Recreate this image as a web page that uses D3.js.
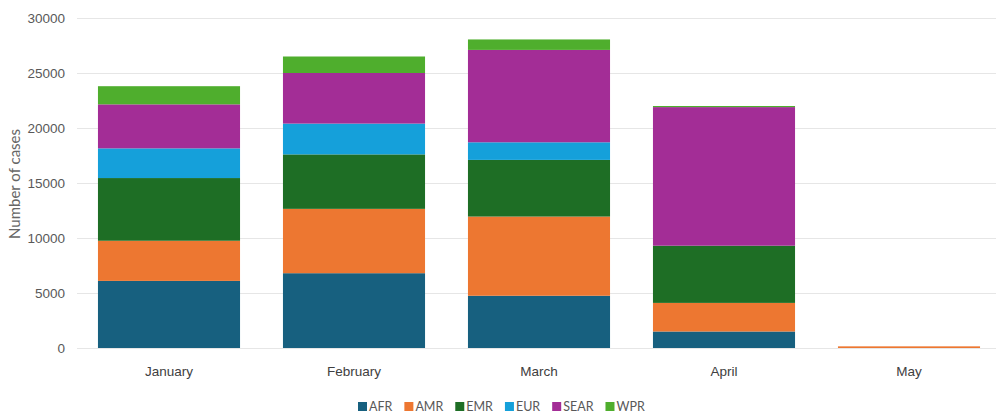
<!DOCTYPE html>
<html>
<head>
<meta charset="utf-8">
<script src="https://cdn.jsdelivr.net/npm/d3@7"></script>
<style>
  html, body { margin: 0; padding: 0; background: #ffffff; }
  svg { display: block; font-family: "Lato", "Open Sans", sans-serif; }
</style>
</head>
<body>
<svg id="chart" width="997" height="416"></svg>
<script>
// Monthly case counts by WHO region
const months = ["January", "February", "March", "April", "May"];
const regions = ["AFR", "AMR", "EMR", "EUR", "SEAR", "WPR"];
const afr  = [6100, 6800, 4750, 1500, 0];
const amr  = [3650, 5850, 7200, 2600, 150];
const emr  = [5700, 4950, 5150, 5200, 0];
const eur  = [2700, 2800, 1600, 0, 0];
const sear = [4000, 4600, 8400, 12600, 0];
const wpr  = [1650, 1500, 950, 100, 0];
const yTicks = [0, 5000, 10000, 15000, 20000, 25000, 30000];
const colors = ["#17607f", "#ed7731", "#1e6e25", "#15a0da", "#a32d96", "#4fae2d"];

const seriesValues = [afr, amr, emr, eur, sear, wpr];
const rows = months.map((m, i) => {
  const r = { month: m };
  regions.forEach((k, j) => { r[k] = seriesValues[j][i]; });
  return r;
});

const svg = d3.select("#chart");
const x = d3.scaleBand().domain(months).range([76.5, 1001.5])
  .paddingInner(0.232).paddingOuter(0.116);
const y = d3.scaleLinear().domain([0, 30000]).range([348, 18]);
const color = d3.scaleOrdinal().domain(regions).range(colors);

// horizontal gridlines
svg.append("g").selectAll("line").data(yTicks).join("line")
  .attr("x1", 77).attr("x2", 996)
  .attr("y1", d => Math.round(y(d)) + 0.5).attr("y2", d => Math.round(y(d)) + 0.5)
  .attr("stroke", "#e6e6e6").attr("stroke-width", 1);

// y axis labels
const yAxis = d3.axisLeft(y).tickValues(yTicks).tickSize(0).tickPadding(0)
  .tickFormat(d3.format("d"));
svg.append("g").attr("transform", "translate(65,0)").call(yAxis)
  .call(g => g.select(".domain").remove())
  .selectAll("text").attr("fill", "#595959").attr("font-size", 13.5);

// stacked bars
const stacked = d3.stack().keys(regions)(rows);
svg.append("g").selectAll("g").data(stacked).join("g")
  .attr("fill", d => color(d.key))
  .selectAll("rect").data(d => d).join("rect")
  .attr("x", d => x(d.data.month))
  .attr("width", x.bandwidth())
  .attr("y", d => y(d[1]))
  .attr("height", d => Math.max(0, y(d[0]) - y(d[1])));

// x axis labels
const xAxis = d3.axisBottom(x).tickSize(0).tickPadding(0);
svg.append("g").attr("transform", "translate(0,366)").call(xAxis)
  .call(g => g.select(".domain").remove())
  .selectAll("text").attr("fill", "#404040").attr("font-size", 13.5)
  .attr("dy", "0.71em");

// y axis title
svg.append("text")
  .attr("transform", "translate(20,184) rotate(-90)")
  .attr("text-anchor", "middle")
  .attr("fill", "#666666").attr("font-size", 15)
  .text("Number of cases");

// legend
const legend = svg.append("g");
let lx = 0;
regions.forEach((r, i) => {
  const g = legend.append("g");
  g.append("rect").attr("x", 0).attr("y", -5).attr("width", 9).attr("height", 9)
    .attr("fill", colors[i]);
  const t = g.append("text").attr("x", 11).attr("y", 0).attr("dy", "0.35em")
    .attr("fill", "#595959").attr("font-size", 12.5).text(r);
  const w = 11 + t.node().getComputedTextLength();
  g.attr("transform", `translate(${lx},0)`);
  lx += w + 12;
});
const legendWidth = lx - 12;
legend.attr("transform", `translate(${Math.round(501 - legendWidth / 2)},407)`);
</script>
</body>
</html>
